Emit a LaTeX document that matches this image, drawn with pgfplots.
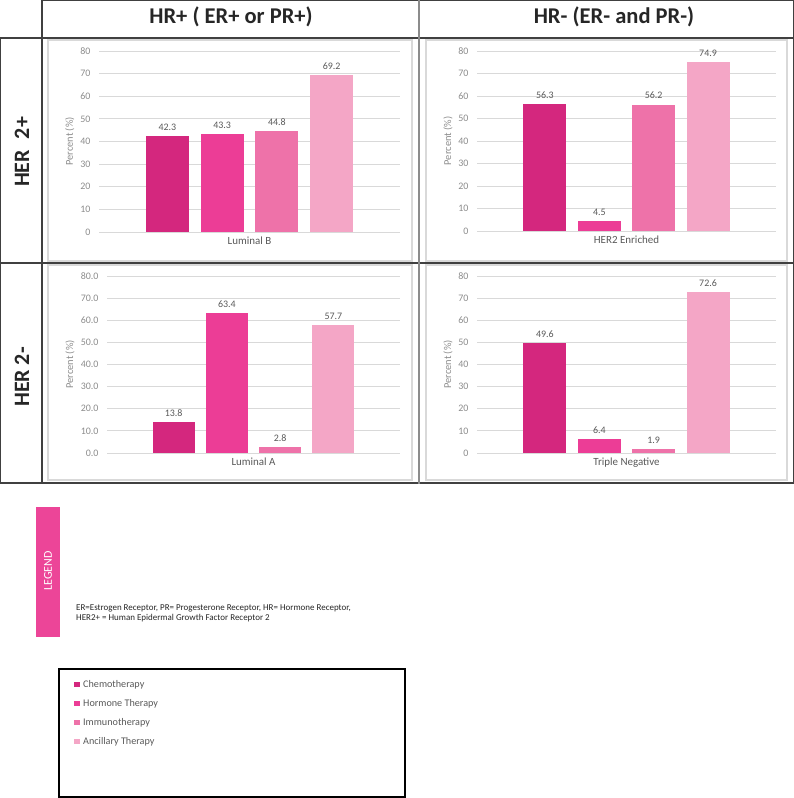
\documentclass[border=0pt]{standalone}
\usepackage{fontspec}
\setmainfont{Carlito}
\usepackage{pgfplots}
\pgfplotsset{compat=1.18}
\definecolor{cA}{HTML}{D4277E}
\definecolor{cB}{HTML}{EC3D96}
\definecolor{cC}{HTML}{EE72A9}
\definecolor{cD}{HTML}{F4A6C6}
\definecolor{legbar}{HTML}{EC4598}
\definecolor{gridc}{HTML}{D9D9D9}
\definecolor{tickc}{HTML}{8C8C8C}
\definecolor{labc}{HTML}{595959}
\definecolor{linec}{HTML}{404040}
\definecolor{boxc}{HTML}{D9D9D9}
\pgfplotsset{
  panel/.style={
    scale only axis, xmin=-0.25, xmax=5.25, ymin=0, ymax=80,
    axis line style={draw=none},
    ymajorgrids, major grid style={draw=gridc, line width=0.9bp},
    ytick={0,10,...,80}, major tick length=0pt,
    xtick={2.5},
    /pgf/number format/assume math mode=true,
    tick label style={font=\fontsize{10}{11}\selectfont, text=tickc},
    yticklabel style={xshift=-5bp},
    xticklabel style={font=\fontsize{11}{12}\selectfont, text=labc, yshift=-1bp},
    ylabel={Percent (\%)},
    ylabel style={font=\fontsize{10.5}{11}\selectfont, text=tickc, anchor=center},
    nodes near coords={\pgfmathprintnumber[fixed,fixed zerofill,precision=1]{\pgfplotspointmeta}},
    nodes near coords style={font=\fontsize{10}{11}\selectfont, text=labc, yshift=2bp},
    clip=false,
  },
  bar/.style={ybar, bar width=0.79, bar shift=0pt, draw=none, fill=#1},
}
\begin{document}
\begin{tikzpicture}
\begin{scope}[x=1bp,y=-1bp]
\path[use as bounding box] (0,0) rectangle (794,798);
% chart boxes
\draw[boxc, line width=1.5bp] (48,40) rectangle (412,261);
\draw[boxc, line width=1.5bp] (426,40) rectangle (787,261);
\draw[boxc, line width=1.5bp] (48,265) rectangle (412,480);
\draw[boxc, line width=1.5bp] (426,265) rectangle (787,480);
% table lines
\draw[linec, line width=1.3bp] (42,0.6) -- (793.4,0.6);
\draw[linec, line width=1.3bp] (42,0) -- (42,484);
\draw[linec, line width=1.3bp] (793.4,0) -- (793.4,484);
\draw[linec, line width=1.3bp] (0.6,38) -- (0.6,484);
\draw[linec, line width=1.3bp] (0,38) -- (794,38);
\draw[linec, line width=1.3bp] (0,263) -- (794,263);
\draw[linec, line width=1.5bp] (0,483) -- (794,483);
\draw[black!45, line width=2bp] (419,0) -- (419,484);
% headers
\node[font=\bfseries\fontsize{22.6}{24}\selectfont, text=black!85] at (231,17) {HR+ ( ER+ or PR+)};
\node[font=\bfseries\fontsize{22.6}{24}\selectfont, text=black!85] at (614,17) {HR- (ER- and PR-)};
\node[font=\bfseries\fontsize{22}{24}\selectfont, text=black!85, rotate=90] at (22,152) {HER\enspace 2+};
\node[font=\bfseries\fontsize{22}{24}\selectfont, text=black!85, rotate=90] at (22,377) {HER 2-};
% legend side bar
\fill[legbar] (36,507) rectangle (60,637);
\node[font=\fontsize{12}{13}\selectfont, text=white, rotate=90] at (48,571) {LEGEND};
\node[anchor=west, font=\fontsize{9}{10}\selectfont, text=black!85, inner sep=0pt] at (76,608) {ER=Estrogen Receptor, PR= Progesterone Receptor, HR= Hormone Receptor,};
\node[anchor=west, font=\fontsize{9}{10}\selectfont, text=black!85, inner sep=0pt] at (76,618.5) {HER2+ = Human Epidermal Growth Factor Receptor 2};
% legend box
\draw[black, line width=1.3bp] (59,669) rectangle (405,797);
\end{scope}

% Top-left: Luminal B
\begin{axis}[panel, at={(99bp,-232bp)}, anchor=south west, width=301bp, height=181bp,
  xticklabels={Luminal B},
  ylabel style={at={(axis description cs:-0.097,0.5)}},
  legend style={at={(axis description cs:-0.0831,-2.478)}, anchor=north west, draw=none, fill=none,
    inner sep=0pt, column sep=3.5bp, row sep=10bp,
    font=\fontsize{10.2}{11}\selectfont, text=labc,
    nodes={inner sep=0pt, text height=7bp, text depth=2bp}},
  legend cell align=left,
  legend image code/.code={\fill[#1] (0bp,-2.2bp) rectangle (5.5bp,3.3bp);}]
\addplot[bar=cA] coordinates {(1,42.3)}; \addlegendentry{Chemotherapy}
\addplot[bar=cB] coordinates {(2,43.3)}; \addlegendentry{Hormone Therapy}
\addplot[bar=cC] coordinates {(3,44.8)}; \addlegendentry{Immunotherapy}
\addplot[bar=cD] coordinates {(4,69.2)}; \addlegendentry{Ancillary Therapy}
\end{axis}

% Top-right: HER2 Enriched
\begin{axis}[panel, at={(477bp,-231bp)}, anchor=south west, width=299bp, height=180bp,
  xticklabels={HER2 Enriched},
  ylabel style={at={(axis description cs:-0.097,0.5)}}]
\addplot[bar=cA] coordinates {(1,56.3)};
\addplot[bar=cB] coordinates {(2,4.5)};
\addplot[bar=cC] coordinates {(3,56.2)};
\addplot[bar=cD] coordinates {(4,74.9)};
\end{axis}

% Bottom-left: Luminal A
\begin{axis}[panel, at={(107bp,-453bp)}, anchor=south west, width=293bp, height=177bp,
  xticklabels={Luminal A},
  yticklabel style={/pgf/number format/.cd, fixed, fixed zerofill, precision=1},
  ylabel style={at={(axis description cs:-0.1263,0.5)}}]
\addplot[bar=cA] coordinates {(1,13.8)};
\addplot[bar=cB] coordinates {(2,63.4)};
\addplot[bar=cC] coordinates {(3,2.8)};
\addplot[bar=cD] coordinates {(4,57.7)};
\end{axis}

% Bottom-right: Triple Negative
\begin{axis}[panel, at={(477bp,-453bp)}, anchor=south west, width=299bp, height=177bp,
  xticklabels={Triple Negative},
  ylabel style={at={(axis description cs:-0.097,0.5)}}]
\addplot[bar=cA] coordinates {(1,49.6)};
\addplot[bar=cB] coordinates {(2,6.4)};
\addplot[bar=cC] coordinates {(3,1.9)};
\addplot[bar=cD] coordinates {(4,72.6)};
\end{axis}
\end{tikzpicture}
\end{document}
